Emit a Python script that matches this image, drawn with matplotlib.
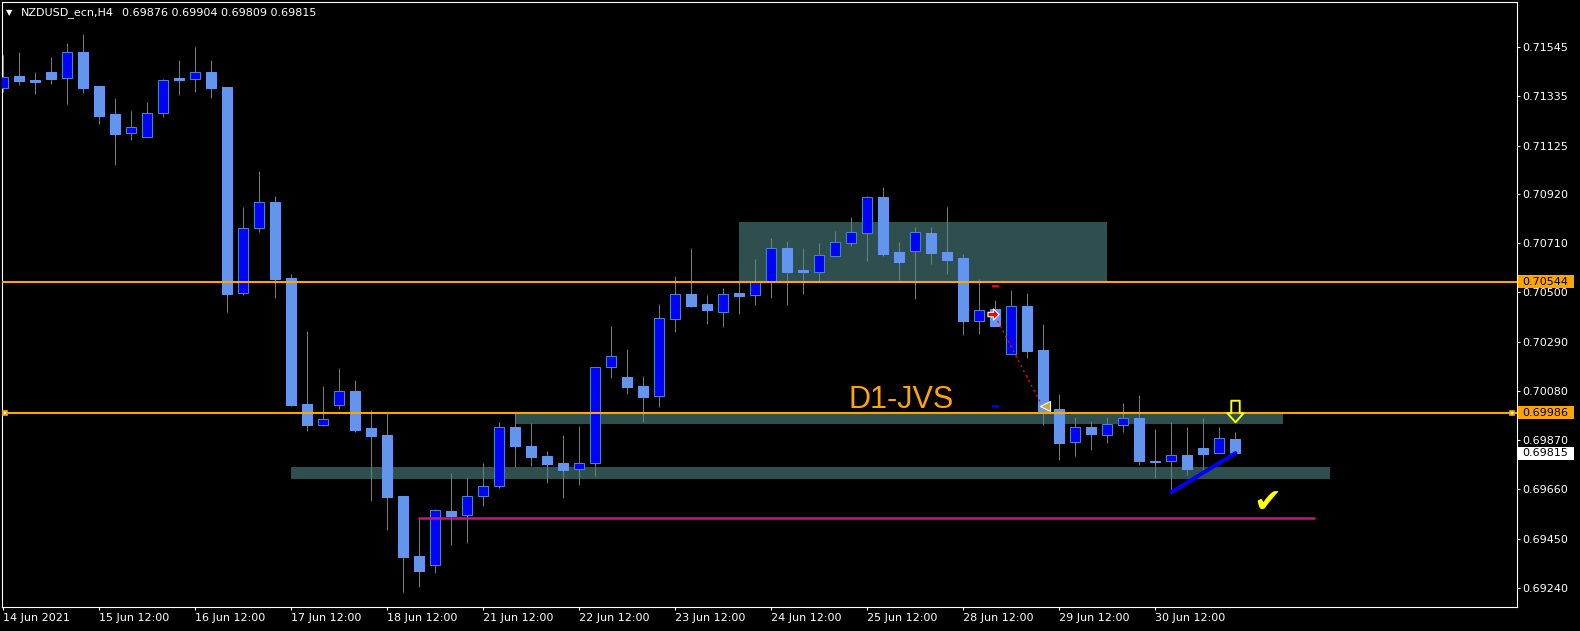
import matplotlib
matplotlib.use("Agg")
import matplotlib.pyplot as plt
import matplotlib.transforms as mtransforms
from matplotlib.patches import Rectangle
from matplotlib.path import Path

# ---------------- data ----------------
opens = [0.71369, 0.71421, 0.71404, 0.71438, 0.71412, 0.71522, 0.71379, 0.71260, 0.71177, 0.71160,
         0.71263, 0.71412, 0.71410, 0.71438, 0.71375, 0.70498, 0.70773, 0.70885, 0.70561, 0.70024,
         0.69936, 0.70021, 0.70079, 0.69922, 0.69892, 0.69632, 0.69376, 0.69337, 0.69568, 0.69550,
         0.69631, 0.69673, 0.69926, 0.69845, 0.69802, 0.69773, 0.69746, 0.69771, 0.70180, 0.70138,
         0.70099, 0.70057, 0.70387, 0.70493, 0.70450, 0.70417, 0.70497, 0.70490, 0.70544, 0.70689,
         0.70595, 0.70588, 0.70656, 0.70711, 0.70754, 0.70906, 0.70672, 0.70675, 0.70753, 0.70672,
         0.70646, 0.70379, 0.70427, 0.70236, 0.70442, 0.70254, 0.70003, 0.69861, 0.69926, 0.69891,
         0.69933, 0.69964, 0.69781, 0.69780, 0.69807, 0.69837, 0.69814, 0.69876]
highs = [0.71511, 0.71522, 0.71438, 0.71502, 0.71562, 0.71600, 0.71379, 0.71326, 0.71272, 0.71311,
         0.71409, 0.71490, 0.71545, 0.71490, 0.71375, 0.70863, 0.71017, 0.70910, 0.70578, 0.70335,
         0.70101, 0.70177, 0.70126, 0.69998, 0.69984, 0.69632, 0.69537, 0.69577, 0.69730, 0.69713,
         0.69773, 0.69946, 0.69984, 0.69942, 0.69824, 0.69892, 0.69930, 0.70180, 0.70356, 0.70258,
         0.70142, 0.70450, 0.70569, 0.70689, 0.70488, 0.70518, 0.70545, 0.70642, 0.70731, 0.70718,
         0.70689, 0.70710, 0.70761, 0.70821, 0.70910, 0.70949, 0.70714, 0.70777, 0.70778, 0.70863,
         0.70663, 0.70557, 0.70467, 0.70510, 0.70496, 0.70365, 0.70065, 0.69969, 0.69952, 0.69969,
         0.70028, 0.70062, 0.69917, 0.69947, 0.69926, 0.69964, 0.69926, 0.69904]
lows = [0.71355, 0.71383, 0.71345, 0.71387, 0.71302, 0.71350, 0.71217, 0.71044, 0.71150, 0.71160,
        0.71248, 0.71340, 0.71355, 0.71329, 0.70417, 0.70488, 0.70758, 0.70477, 0.70015, 0.69910,
        0.69930, 0.70004, 0.69906, 0.69612, 0.69488, 0.69224, 0.69243, 0.69305, 0.69425, 0.69432,
        0.69591, 0.69667, 0.69757, 0.69761, 0.69689, 0.69625, 0.69680, 0.69718, 0.70136, 0.70068,
        0.69949, 0.70012, 0.70331, 0.70439, 0.70366, 0.70353, 0.70409, 0.70446, 0.70477, 0.70446,
        0.70493, 0.70548, 0.70656, 0.70697, 0.70635, 0.70655, 0.70552, 0.70473, 0.70622, 0.70578,
        0.70318, 0.70323, 0.70358, 0.70236, 0.70221, 0.69934, 0.69785, 0.69804, 0.69829, 0.69859,
        0.69906, 0.69765, 0.69710, 0.69648, 0.69723, 0.69739, 0.69814, 0.69809]
closes = [0.71418, 0.71401, 0.71397, 0.71409, 0.71522, 0.71372, 0.71252, 0.71176, 0.71203, 0.71263,
          0.71403, 0.71403, 0.71438, 0.71372, 0.70494, 0.70773, 0.70883, 0.70557, 0.70020, 0.69934,
          0.69959, 0.70079, 0.69914, 0.69889, 0.69629, 0.69373, 0.69314, 0.69571, 0.69548, 0.69631,
          0.69673, 0.69925, 0.69846, 0.69799, 0.69770, 0.69744, 0.69771, 0.70180, 0.70227, 0.70098,
          0.70055, 0.70389, 0.70491, 0.70443, 0.70426, 0.70491, 0.70485, 0.70544, 0.70687, 0.70586,
          0.70588, 0.70658, 0.70713, 0.70756, 0.70905, 0.70663, 0.70629, 0.70756, 0.70667, 0.70637,
          0.70378, 0.70423, 0.70358, 0.70440, 0.70251, 0.69995, 0.69859, 0.69926, 0.69897, 0.69939,
          0.69963, 0.69782, 0.69778, 0.69805, 0.69748, 0.69812, 0.69878, 0.69815]

x_tick_bars = [0, 6, 12, 18, 24, 30, 36, 42, 48, 54, 60, 66, 72]
x_tick_labels = ["14 Jun 2021", "15 Jun 12:00", "16 Jun 12:00", "17 Jun 12:00", "18 Jun 12:00",
                 "21 Jun 12:00", "22 Jun 12:00", "23 Jun 12:00", "24 Jun 12:00", "25 Jun 12:00",
                 "28 Jun 12:00", "29 Jun 12:00", "30 Jun 12:00"]
y_ticks = [0.71545, 0.71335, 0.71125, 0.70920, 0.70710, 0.70500,
           0.70290, 0.70080, 0.69870, 0.69660, 0.69450, 0.69240]

levels = [0.70544, 0.69986]
last_price = 0.69815
title_symbol = "NZDUSD_ecn,H4"
title_ohlc = "0.69876 0.69904 0.69809 0.69815"

# zones: (bar_start, bar_end, price_low, price_high)
zones = [(46.0, 69.0, 0.70540, 0.70799),
         (32.0, 80.0, 0.69939, 0.69990),
         (18.0, 82.9, 0.69704, 0.69756)]
support_bars = [25.9, 82.0]
support_price = 0.69537
trend_bars = [73, 77]
trend_prices = [0.69648, 0.69815]
label_text = "D1-JVS"
label_pos = (52.8, 0.70007)
arrow_pos = (77, 0.69993)
check_pos = (79.0, 0.69603)
trade_open = (61.84, 0.70406)
trade_close = (65.11, 0.70017)
trade_path_bars = [61.98, 64.86]
trade_path_prices = [0.70399, 0.70024]
sl_price = 0.70527
tp_price = 0.70015
marker_bars = [61.8, 62.25]

# ---------------- figure ----------------
W, H = 1580, 631
fig = plt.figure(figsize=(W / 100, H / 100), dpi=100, facecolor="black")
ax = fig.add_axes([2 / W, 1 - 607 / H, (1517 - 2) / W, (607 - 2) / H], facecolor="black")
ax.set_xlim(-0.08, 94.6)
ax.set_ylim(0.691590, 0.717367)

px = (0.717367 - 0.691590) / 605.0  # price per pixel

bull_fill = "#0000FF"
bear_fill = "#6495ED"
wick_col = "#4682C8"

for z in zones:
    ax.add_patch(Rectangle((z[0], z[2]), z[1] - z[0], z[3] - z[2],
                           facecolor="#2F4F4F", edgecolor="none", zorder=1))

xs = list(range(len(opens)))
ax.vlines(xs, lows, highs, color=wick_col, linewidth=0.75, zorder=2)
for i in xs:
    o, c = opens[i], closes[i]
    bull = c > o
    bottom = min(o, c)
    height = max(abs(c - o), px)
    ax.bar(i, height, bottom=bottom, width=0.63,
           color=bull_fill if bull else bear_fill,
           edgecolor=wick_col if bull else bear_fill,
           linewidth=0.75, zorder=3)

# horizontal levels
for lv in levels:
    ax.axhline(lv, color="#FFA500", linewidth=1.5, zorder=5)

# support line (magenta)
ax.plot(support_bars, [support_price, support_price], color="#C71585", linewidth=1.8, zorder=5,
        solid_capstyle="butt")

# trend line
ax.plot(trend_bars, trend_prices, color="#0000FF", linewidth=2.8, zorder=6, solid_capstyle="round")

# trade markers
ax.plot(trade_path_bars, trade_path_prices, color="red", linewidth=1.0, linestyle=(0, (1.5, 2.5)), zorder=6)
ax.plot(marker_bars, [sl_price, sl_price], color="red", linewidth=1.4, zorder=6, solid_capstyle="butt")
ax.plot(marker_bars, [tp_price, tp_price], color="#0000FF", linewidth=1.4, zorder=6, solid_capstyle="butt")
rarrow = Path([(-0.5, 0.2), (0.0, 0.2), (0.0, 0.5), (0.5, 0.0), (0.0, -0.5), (0.0, -0.2), (-0.5, -0.2), (-0.5, 0.2)],
              [Path.MOVETO] + [Path.LINETO] * 6 + [Path.CLOSEPOLY])
ax.plot([trade_open[0]], [trade_open[1]], marker=rarrow, markersize=8, markerfacecolor="red",
        markeredgecolor="white", markeredgewidth=0.8, zorder=7)
ax.plot([trade_close[0]], [trade_close[1]], marker="<", markersize=7, markerfacecolor="#DAA520",
        markeredgecolor="white", markeredgewidth=0.8, zorder=7)

# yellow hollow down arrow
darrow = Path([(-4.3, 11), (4.3, 11), (4.3, -1.7), (8.3, -1.7), (0, -11), (-8.3, -1.7), (-4.3, -1.7), (-4.3, 11)],
              [Path.MOVETO] + [Path.LINETO] * 6 + [Path.CLOSEPOLY])
ax.plot([arrow_pos[0]], [arrow_pos[1]], marker=darrow, markersize=15.5, markerfacecolor="none",
        markeredgecolor="#FFFF00", markeredgewidth=1.4, zorder=7)

# check mark
ax.text(check_pos[0], check_pos[1], "\u2714", color="#FFFF00", fontsize=24, ha="center", va="center",
        family="DejaVu Sans", zorder=7)

# text label
ax.text(label_pos[0], label_pos[1], label_text, color="#FFA500", fontsize=22, family="Liberation Sans",
        ha="left", va="baseline", zorder=7)

# axes styling
for s in ax.spines.values():
    s.set_color("white")
    s.set_linewidth(0.8)
ax.yaxis.tick_right()
ax.set_yticks(y_ticks)
ax.set_yticklabels([f"{v:.5f}" for v in y_ticks])
ax.set_xticks(x_tick_bars)
ax.set_xticklabels(x_tick_labels)
for lab in ax.get_xticklabels():
    lab.set_horizontalalignment("left")
ax.tick_params(axis="both", colors="white", labelsize=8, length=2.5, width=0.8, direction="out")
ax.tick_params(axis="y", pad=1.5)
ax.tick_params(axis="x", pad=1.5)

# price boxes on the right axis
trans = mtransforms.blended_transform_factory(ax.transAxes, ax.transData)
box_w = (1574 - 1518) / (1517 - 2)
box_h = 13 * px
for price, fc in [(levels[0], "#FFA500"), (levels[1], "#FFA500"), (last_price, "white")]:
    ax.add_patch(Rectangle((1.0 + 1 / 1515, price - box_h / 2), box_w, box_h, transform=trans,
                           facecolor=fc, edgecolor="none", clip_on=False, zorder=10))
    ax.text(1.0 + 5.5 / 1515, price, f"{price:.5f}", transform=trans, color="black", fontsize=8,
            ha="left", va="center", clip_on=False, zorder=11)

# small end markers on the lower level
for fx in [0.002, 0.9965]:
    ax.plot([fx], [levels[1]], transform=trans, marker="s", markersize=3.5, markerfacecolor="white",
            markeredgecolor="#FFA500", markeredgewidth=1.2, clip_on=False, zorder=8)

# title
fig.text(6 / W, 1 - 12.5 / H, "\u25BC", color="white", fontsize=6, va="center", ha="left")
fig.text(21 / W, 1 - 12.5 / H, title_symbol, color="white", fontsize=8, va="center", ha="left")
fig.text(122 / W, 1 - 12.5 / H, title_ohlc, color="white", fontsize=8, va="center", ha="left")

fig.savefig("out.png", dpi=100, facecolor="black")
